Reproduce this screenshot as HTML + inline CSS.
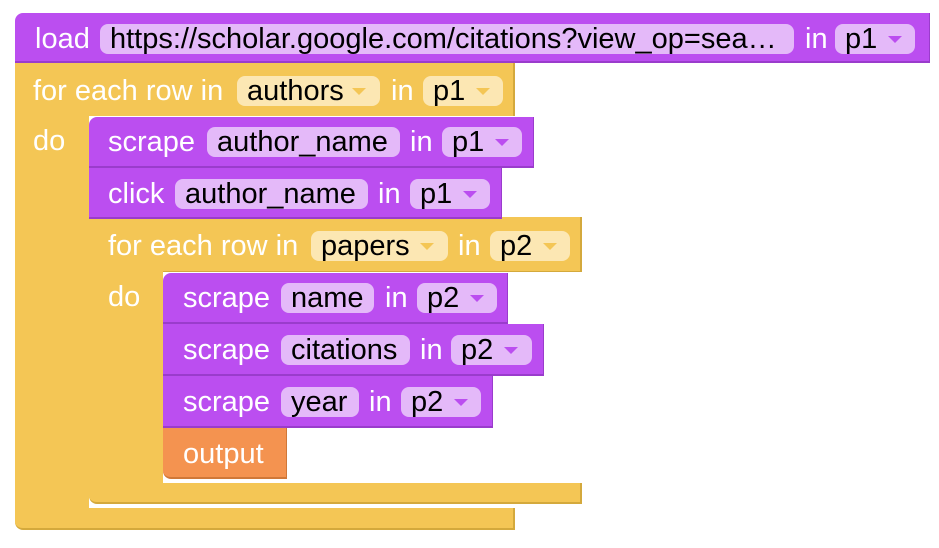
<!DOCTYPE html>
<html><head><style>
body{margin:0;width:939px;height:548px;background:#fff;position:relative;overflow:hidden;font-family:"Liberation Sans",Arial,sans-serif;}
div,span{position:absolute;box-sizing:border-box;}
.p{background:#bb4ef0;border-bottom:2px solid #9a3ccc;border-right:1px solid #9a3ccc;}
.y{background:#f4c655;}
.o{background:#f49350;border-bottom:2px solid #d07838;border-right:1px solid #d07838;}
.t{color:#fff;font-size:29px;line-height:30px;white-space:nowrap;}
.f{height:30px;border-radius:8px;font-size:29px;line-height:30px;color:#000;padding-left:10px;white-space:nowrap;overflow:hidden;}
.fp{background:#e4b9f9;}
.fy{background:#fce7b3;}
.ar{width:0;height:0;border-left:7px solid transparent;border-right:7px solid transparent;top:12px;}
.fp .ar{border-top:7px solid #bb4ef0;}
.fy .ar{border-top:7px solid #f4c655;}
</style></head><body>
<div class="y" style="left:89px;top:483px;width:493px;height:21px;border-bottom:2px solid #d4a93c;border-right:2px solid #d4a93c;border-radius:0 0 0 8px;"></div>
<div class="y" style="left:15px;top:508px;width:500px;height:22px;border-bottom:2px solid #d4a93c;border-right:2px solid #d4a93c;border-radius:0 0 0 8px;"></div>
<div class="y" style="left:89px;top:217px;width:493px;height:55px;border-right:2px solid #d4a93c;border-bottom:1px solid #d4a93c"></div>
<div class="y" style="left:15px;top:62px;width:500px;height:54px;border-right:2px solid #d4a93c;"></div>
<div class="y" style="left:89px;top:217px;width:74px;height:280px;border-radius:0 0 0 8px;"></div>
<div class="y" style="left:15px;top:62px;width:74px;height:460px;border-radius:0 0 0 8px;"></div>

<div class="p" style="left:15px;top:13px;width:915px;height:50px;border-radius:8px 0 0 0;"></div>
<span class="t" style="left:35px;top:24px;">load</span>
<div class="f fp" style="left:100px;top:24px;width:694px;">https://scholar.google.com/citations?view_op=sea…</div>
<span class="t" style="left:805px;top:24px;">in</span>
<div class="f fp" style="left:835px;top:24px;width:80px;">p1<span class="ar" style="left:53px;"></span></div>

<span class="t" style="left:33px;top:76px;">for each row in</span>
<div class="f fy" style="left:237px;top:76px;width:143px;">authors<span class="ar" style="left:115px;"></span></div>
<span class="t" style="left:391px;top:76px;">in</span>
<div class="f fy" style="left:423px;top:76px;width:80px;">p1<span class="ar" style="left:53px;"></span></div>
<span class="t" style="left:33px;top:126px;">do</span>

<div class="p" style="left:89px;top:117px;width:445px;height:51px;border-radius:8px 0 0 0;"></div>
<span class="t" style="left:108px;top:127px;">scrape</span>
<div class="f fp" style="left:207px;top:127px;width:193px;">author_name</div>
<span class="t" style="left:410px;top:127px;">in</span>
<div class="f fp" style="left:442px;top:127px;width:80px;">p1<span class="ar" style="left:53px;"></span></div>

<div class="p" style="left:89px;top:168px;width:413px;height:51px;"></div>
<span class="t" style="left:108px;top:179px;">click</span>
<div class="f fp" style="left:175px;top:179px;width:193px;">author_name</div>
<span class="t" style="left:378px;top:179px;">in</span>
<div class="f fp" style="left:410px;top:179px;width:80px;">p1<span class="ar" style="left:53px;"></span></div>

<span class="t" style="left:108px;top:231px;">for each row in</span>
<div class="f fy" style="left:311px;top:231px;width:137px;">papers<span class="ar" style="left:109px;"></span></div>
<span class="t" style="left:458px;top:231px;">in</span>
<div class="f fy" style="left:490px;top:231px;width:80px;">p2<span class="ar" style="left:53px;"></span></div>
<span class="t" style="left:108px;top:282px;">do</span>

<div class="p" style="left:163px;top:273px;width:345px;height:51px;border-radius:8px 0 0 0;"></div>
<span class="t" style="left:183px;top:283px;">scrape</span>
<div class="f fp" style="left:281px;top:283px;width:93px;">name</div>
<span class="t" style="left:385px;top:283px;">in</span>
<div class="f fp" style="left:417px;top:283px;width:80px;">p2<span class="ar" style="left:53px;"></span></div>

<div class="p" style="left:163px;top:324px;width:381px;height:52px;"></div>
<span class="t" style="left:183px;top:335px;">scrape</span>
<div class="f fp" style="left:281px;top:335px;width:129px;">citations</div>
<span class="t" style="left:420px;top:335px;">in</span>
<div class="f fp" style="left:451px;top:335px;width:81px;">p2<span class="ar" style="left:53px;"></span></div>

<div class="p" style="left:163px;top:376px;width:330px;height:52px;"></div>
<span class="t" style="left:183px;top:387px;">scrape</span>
<div class="f fp" style="left:281px;top:387px;width:78px;">year</div>
<span class="t" style="left:369px;top:387px;">in</span>
<div class="f fp" style="left:401px;top:387px;width:80px;">p2<span class="ar" style="left:53px;"></span></div>

<div class="o" style="left:163px;top:428px;width:124px;height:51px;border-radius:0 0 0 8px;"></div>
<span class="t" style="left:183px;top:439px;">output</span>
</body></html>
